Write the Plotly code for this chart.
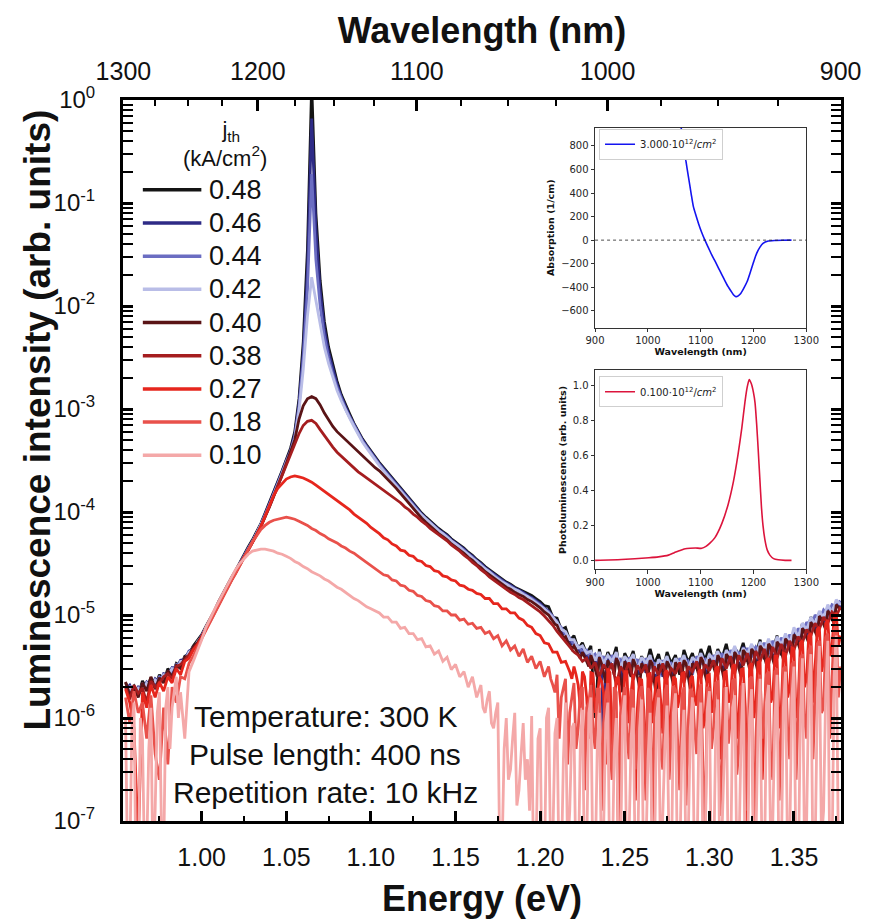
import numpy as np
import plotly.graph_objects as go

# ---------------- main spectra (log10 of intensity on a uniform energy grid) ----------------
E_START, E_STEP, N_PTS = 0.955, 0.0025, 170
energy_eV = np.round(E_START + E_STEP * np.arange(N_PTS), 4)

jth_labels = ["0.48", "0.46", "0.44", "0.42", "0.40", "0.38", "0.27", "0.18", "0.10"]
colors = ["#141414", "#2e2b86", "#6b6dc2", "#b9bde7", "#5a1416",
          "#a51d1f", "#e6261d", "#e9514b", "#f4a8a8"]

log_I_048 = [
    -5.66, -5.74, -5.69, -5.78, -5.64, -5.72, -5.61, -5.70, -5.58, -5.65,
    -5.52, -5.58, -5.47, -5.50, -5.40, -5.38, -5.30, -5.25, -5.19, -5.11,
    -5.04, -4.96, -4.87, -4.79, -4.72, -4.64, -4.57, -4.49, -4.41, -4.34,
    -4.27, -4.19, -4.11, -4.01, -3.91, -3.81, -3.71, -3.60, -3.49, -3.38,
    -3.22, -2.90, -2.35, -1.45, 0.15, -1.10, -1.75, -2.15, -2.40, -2.58,
    -2.73, -2.86, -2.96, -3.05, -3.14, -3.22, -3.29, -3.35, -3.41, -3.47,
    -3.52, -3.57, -3.62, -3.67, -3.72, -3.77, -3.82, -3.87, -3.92, -3.97,
    -4.01, -4.05, -4.09, -4.13, -4.16, -4.19, -4.22, -4.26, -4.29, -4.32,
    -4.35, -4.39, -4.42, -4.46, -4.49, -4.53, -4.56, -4.59, -4.62, -4.65,
    -4.68, -4.70, -4.73, -4.75, -4.77, -4.79, -4.81, -4.84, -4.87, -4.91,
    -4.92, -5.02, -5.03, -5.14, -5.12, -5.25, -5.20, -5.33, -5.27, -5.38,
    -5.30, -6.00, -5.33, -5.52, -5.36, -5.45, -5.31, -5.62, -5.37, -5.46,
    -5.35, -5.55, -5.40, -5.50, -5.33, -5.48, -5.38, -5.55, -5.36, -5.47,
    -5.39, -5.58, -5.34, -5.46, -5.37, -5.52, -5.33, -5.44, -5.30, -5.49,
    -5.33, -5.42, -5.28, -5.47, -5.32, -5.40, -5.27, -5.45, -5.30, -5.38,
    -5.24, -5.43, -5.26, -5.35, -5.20, -5.39, -5.22, -5.30, -5.15, -5.26,
    -5.08, -5.20, -5.02, -5.14, -4.98, -5.08, -4.92, -5.00, -4.88, -4.95,
]
log_I_046 = [
    -5.72, -5.68, -5.76, -5.70, -5.73, -5.65, -5.69, -5.62, -5.66, -5.57,
    -5.58, -5.51, -5.52, -5.44, -5.43, -5.35, -5.33, -5.27, -5.20, -5.12,
    -5.05, -4.97, -4.88, -4.80, -4.73, -4.65, -4.58, -4.50, -4.42, -4.35,
    -4.28, -4.20, -4.12, -4.02, -3.92, -3.82, -3.72, -3.61, -3.50, -3.40,
    -3.25, -2.95, -2.45, -1.65, -0.18, -1.25, -1.85, -2.22, -2.45, -2.62,
    -2.76, -2.88, -2.98, -3.07, -3.15, -3.23, -3.30, -3.36, -3.42, -3.48,
    -3.53, -3.58, -3.63, -3.68, -3.73, -3.78, -3.83, -3.88, -3.93, -3.98,
    -4.02, -4.06, -4.10, -4.14, -4.17, -4.20, -4.23, -4.27, -4.30, -4.33,
    -4.36, -4.40, -4.43, -4.47, -4.50, -4.54, -4.57, -4.60, -4.63, -4.66,
    -4.69, -4.71, -4.74, -4.76, -4.78, -4.81, -4.83, -4.86, -4.89, -4.93,
    -4.96, -5.03, -5.06, -5.15, -5.17, -5.25, -5.26, -5.33, -5.32, -5.40,
    -5.36, -5.45, -5.37, -6.35, -5.40, -5.50, -5.38, -5.47, -5.42, -5.55,
    -5.40, -5.49, -5.44, -5.56, -5.41, -5.50, -5.45, -5.60, -5.42, -5.52,
    -5.43, -5.50, -5.41, -5.52, -5.44, -5.49, -5.38, -5.55, -5.40, -5.46,
    -5.36, -5.47, -5.35, -5.44, -5.33, -5.48, -5.31, -5.40, -5.30, -5.43,
    -5.28, -5.37, -5.25, -5.40, -5.24, -5.33, -5.20, -5.31, -5.16, -5.25,
    -5.10, -5.19, -5.04, -5.13, -4.98, -5.06, -4.94, -5.02, -4.87, -4.93,
]
log_I_044 = [
    -5.69, -5.75, -5.70, -5.74, -5.67, -5.71, -5.64, -5.68, -5.60, -5.63,
    -5.55, -5.56, -5.48, -5.49, -5.41, -5.39, -5.31, -5.28, -5.20, -5.13,
    -5.05, -4.97, -4.88, -4.80, -4.73, -4.65, -4.58, -4.50, -4.43, -4.36,
    -4.28, -4.21, -4.12, -4.03, -3.93, -3.83, -3.73, -3.62, -3.51, -3.41,
    -3.27, -2.98, -2.52, -1.85, -0.72, -1.55, -2.00, -2.30, -2.50, -2.66,
    -2.79, -2.90, -3.00, -3.08, -3.16, -3.24, -3.31, -3.37, -3.43, -3.49,
    -3.54, -3.59, -3.64, -3.69, -3.74, -3.79, -3.84, -3.89, -3.94, -3.99,
    -4.03, -4.07, -4.11, -4.15, -4.18, -4.21, -4.24, -4.28, -4.31, -4.34,
    -4.37, -4.41, -4.44, -4.48, -4.51, -4.55, -4.58, -4.61, -4.64, -4.67,
    -4.70, -4.72, -4.75, -4.77, -4.79, -4.82, -4.84, -4.87, -4.90, -4.94,
    -4.97, -5.01, -5.08, -5.12, -5.19, -5.22, -5.29, -5.30, -5.36, -5.34,
    -5.42, -5.38, -5.46, -5.40, -5.52, -5.39, -5.46, -5.43, -5.58, -5.41,
    -5.50, -5.43, -5.55, -5.42, -5.51, -5.46, -5.62, -5.44, -5.50, -5.47,
    -5.55, -5.42, -5.49, -5.45, -5.58, -5.40, -5.47, -5.43, -5.52, -5.39,
    -5.45, -5.37, -5.50, -5.34, -5.42, -5.36, -5.47, -5.32, -5.41, -5.31,
    -5.36, -5.27, -5.38, -5.25, -5.34, -5.22, -5.30, -5.19, -5.27, -5.13,
    -5.18, -5.07, -5.12, -5.00, -5.05, -4.95, -5.00, -4.90, -4.92, -4.86,
]
log_I_042 = [
    -5.73, -5.70, -5.77, -5.71, -5.75, -5.66, -5.70, -5.63, -5.67, -5.58,
    -5.59, -5.52, -5.54, -5.45, -5.45, -5.36, -5.34, -5.26, -5.21, -5.12,
    -5.06, -4.98, -4.89, -4.81, -4.74, -4.66, -4.59, -4.51, -4.43, -4.36,
    -4.29, -4.21, -4.13, -4.04, -3.94, -3.84, -3.74, -3.63, -3.52, -3.42,
    -3.29, -3.02, -2.62, -2.10, -1.72, -1.95, -2.20, -2.40, -2.56, -2.70,
    -2.82, -2.92, -3.01, -3.09, -3.17, -3.25, -3.32, -3.38, -3.44, -3.50,
    -3.55, -3.60, -3.65, -3.70, -3.75, -3.80, -3.85, -3.90, -3.95, -3.99,
    -4.03, -4.07, -4.11, -4.15, -4.18, -4.21, -4.25, -4.28, -4.31, -4.34,
    -4.38, -4.41, -4.45, -4.48, -4.52, -4.55, -4.58, -4.62, -4.65, -4.68,
    -4.70, -4.73, -4.75, -4.77, -4.80, -4.82, -4.85, -4.88, -4.91, -4.94,
    -4.98, -5.02, -5.07, -5.14, -5.16, -5.24, -5.24, -5.32, -5.30, -5.37,
    -5.35, -5.44, -5.36, -5.47, -5.39, -5.45, -5.36, -5.52, -5.40, -5.46,
    -5.38, -5.53, -5.41, -5.47, -5.39, -5.57, -5.43, -5.48, -5.40, -5.54,
    -5.42, -5.48, -5.39, -5.53, -5.41, -5.46, -5.37, -5.50, -5.38, -5.44,
    -5.35, -5.49, -5.34, -5.41, -5.30, -5.45, -5.32, -5.38, -5.28, -5.42,
    -5.26, -5.35, -5.23, -5.37, -5.21, -5.30, -5.18, -5.28, -5.12, -5.22,
    -5.08, -5.15, -5.02, -5.10, -4.96, -5.03, -4.90, -4.98, -4.85, -4.90,
]
log_I_040 = [
    -5.65, -5.78, -5.70, -5.80, -5.66, -5.74, -5.60, -5.72, -5.61, -5.66,
    -5.54, -5.60, -5.49, -5.52, -5.41, -5.40, -5.31, -5.27, -5.21, -5.13,
    -5.06, -4.98, -4.89, -4.81, -4.74, -4.66, -4.59, -4.51, -4.44, -4.37,
    -4.30, -4.22, -4.14, -4.05, -3.95, -3.85, -3.75, -3.64, -3.53, -3.42,
    -3.30, -3.10, -2.97, -2.90, -2.88, -2.90, -2.96, -3.04, -3.11, -3.17,
    -3.22, -3.26, -3.30, -3.34, -3.38, -3.42, -3.46, -3.50, -3.53, -3.57,
    -3.60, -3.64, -3.68, -3.72, -3.77, -3.82, -3.87, -3.92, -3.97, -4.02,
    -4.06, -4.10, -4.14, -4.18, -4.21, -4.24, -4.27, -4.31, -4.34, -4.37,
    -4.40, -4.44, -4.47, -4.51, -4.54, -4.58, -4.61, -4.64, -4.67, -4.70,
    -4.73, -4.75, -4.78, -4.80, -4.82, -4.85, -4.87, -4.90, -4.93, -4.97,
    -5.00, -5.06, -5.10, -5.18, -5.21, -5.29, -5.30, -5.37, -5.36, -5.45,
    -5.39, -5.52, -5.41, -5.56, -5.44, -5.50, -5.42, -5.62, -5.45, -5.54,
    -5.43, -5.60, -5.47, -5.52, -5.44, -5.65, -5.48, -5.55, -5.45, -5.60,
    -5.46, -5.53, -5.44, -5.62, -5.47, -5.51, -5.41, -5.58, -5.43, -5.50,
    -5.39, -5.55, -5.38, -5.47, -5.36, -5.52, -5.34, -5.44, -5.33, -5.47,
    -5.30, -5.41, -5.28, -5.43, -5.26, -5.36, -5.23, -5.34, -5.19, -5.28,
    -5.13, -5.22, -5.07, -5.16, -5.01, -5.09, -4.96, -5.04, -4.90, -4.95,
]
log_I_038 = [
    -5.70, -5.82, -5.68, -5.76, -5.71, -5.85, -5.64, -5.70, -5.66, -5.60,
    -5.57, -5.62, -5.50, -5.48, -5.44, -5.38, -5.33, -5.28, -5.21, -5.14,
    -5.06, -4.98, -4.89, -4.81, -4.74, -4.66, -4.59, -4.51, -4.44, -4.37,
    -4.30, -4.22, -4.14, -4.05, -3.95, -3.85, -3.75, -3.64, -3.54, -3.44,
    -3.34, -3.24, -3.16, -3.12, -3.11, -3.14, -3.20, -3.26, -3.32, -3.37,
    -3.42, -3.46, -3.50, -3.54, -3.57, -3.61, -3.64, -3.67, -3.70, -3.73,
    -3.76, -3.79, -3.82, -3.85, -3.88, -3.91, -3.95, -3.98, -4.02, -4.05,
    -4.09, -4.12, -4.16, -4.19, -4.22, -4.25, -4.28, -4.32, -4.35, -4.38,
    -4.42, -4.45, -4.49, -4.52, -4.56, -4.59, -4.63, -4.66, -4.69, -4.72,
    -4.75, -4.78, -4.80, -4.83, -4.85, -4.88, -4.91, -4.94, -4.97, -5.01,
    -5.05, -5.10, -5.16, -5.21, -5.26, -5.31, -5.36, -5.39, -5.45, -5.42,
    -5.52, -5.46, -5.60, -5.48, -5.55, -5.47, -5.68, -5.50, -5.57, -5.46,
    -5.63, -5.49, -5.56, -5.48, -5.72, -5.50, -5.58, -5.47, -5.61, -5.52,
    -5.57, -5.46, -5.66, -5.50, -5.55, -5.45, -5.61, -5.48, -5.54, -5.44,
    -5.58, -5.42, -5.52, -5.40, -5.57, -5.39, -5.49, -5.37, -5.53, -5.35,
    -5.45, -5.33, -5.48, -5.31, -5.42, -5.28, -5.40, -5.25, -5.34, -5.21,
    -5.27, -5.14, -5.20, -5.08, -5.14, -5.02, -5.08, -4.97, -5.01, -4.92,
]
log_I_027 = [
    -5.72, -5.85, -6.10, -7.20, -5.75, -5.90, -5.68, -5.80, -5.65, -5.74,
    -5.60, -5.66, -5.52, -5.58, -5.45, -5.42, -5.34, -5.29, -5.22, -5.14,
    -5.06, -4.98, -4.89, -4.81, -4.74, -4.66, -4.59, -4.51, -4.44, -4.37,
    -4.30, -4.22, -4.14, -4.04, -3.94, -3.84, -3.77, -3.72, -3.68, -3.66,
    -3.65, -3.66, -3.67, -3.69, -3.71, -3.74, -3.77, -3.80, -3.83, -3.86,
    -3.89, -3.92, -3.95, -3.98, -4.02, -4.05, -4.08, -4.11, -4.15, -4.18,
    -4.21, -4.25, -4.27, -4.31, -4.33, -4.37, -4.38, -4.42, -4.43, -4.47,
    -4.48, -4.52, -4.53, -4.57, -4.58, -4.62, -4.63, -4.66, -4.67, -4.71,
    -4.72, -4.75, -4.76, -4.79, -4.80, -4.84, -4.84, -4.89, -4.89, -4.94,
    -4.94, -4.98, -4.98, -5.03, -5.05, -5.10, -5.12, -5.18, -5.20, -5.27,
    -5.28, -5.36, -5.36, -5.46, -5.45, -5.55, -5.50, -5.68, -5.55, -5.80,
    -5.56, -5.95, -5.60, -5.75, -5.52, -6.30, -5.62, -5.85, -5.55, -6.05,
    -5.58, -5.90, -5.63, -6.60, -5.57, -5.82, -5.60, -6.15, -5.54, -5.95,
    -5.62, -5.78, -5.56, -6.40, -5.59, -5.88, -5.53, -6.00, -5.58, -5.84,
    -5.50, -6.25, -5.55, -5.80, -5.48, -5.95, -5.52, -7.10, -5.47, -5.85,
    -5.45, -6.05, -5.42, -5.78, -5.40, -5.92, -5.38, -5.70, -5.33, -5.85,
    -5.25, -5.60, -5.18, -5.50, -5.12, -5.45, -5.05, -5.30, -4.98, -5.20,
]
log_I_018 = [
    -5.80, -6.05, -5.74, -5.95, -5.85, -6.20, -5.78, -6.35, -6.60, -5.90,
    -6.45, -5.70, -5.85, -5.60, -5.62, -5.47, -5.40, -5.31, -5.23, -5.15,
    -5.07, -4.99, -4.90, -4.82, -4.75, -4.67, -4.60, -4.52, -4.44, -4.36,
    -4.29, -4.23, -4.17, -4.13, -4.10, -4.08, -4.07, -4.06, -4.05, -4.06,
    -4.07, -4.09, -4.11, -4.13, -4.16, -4.18, -4.21, -4.23, -4.26, -4.28,
    -4.30, -4.33, -4.35, -4.38, -4.40, -4.43, -4.46, -4.49, -4.52, -4.55,
    -4.58, -4.61, -4.62, -4.66, -4.67, -4.71, -4.72, -4.76, -4.77, -4.81,
    -4.82, -4.86, -4.87, -4.91, -4.92, -4.96, -4.96, -5.00, -5.00, -5.05,
    -5.04, -5.09, -5.08, -5.13, -5.12, -5.18, -5.16, -5.23, -5.20, -5.30,
    -5.25, -5.34, -5.30, -5.40, -5.33, -5.46, -5.40, -5.52, -5.45, -5.60,
    -5.50, -5.68, -5.58, -5.80, -5.62, -5.95, -5.66, -6.10, -5.70, -5.90,
    -5.68, -6.30, -5.72, -6.05, -5.66, -6.60, -5.75, -5.95, -5.70, -6.40,
    -5.74, -6.10, -5.69, -6.80, -5.76, -6.00, -5.72, -6.50, -5.68, -6.15,
    -5.73, -6.70, -5.70, -6.05, -5.75, -6.35, -5.67, -7.20, -5.72, -6.10,
    -5.65, -6.45, -5.70, -6.00, -5.62, -6.30, -5.66, -6.90, -5.60, -6.20,
    -5.58, -6.00, -5.55, -6.60, -5.52, -6.10, -5.50, -6.40, -5.45, -5.95,
    -5.38, -6.20, -5.30, -5.80, -5.25, -5.90, -5.18, -5.60, -5.10, -5.50,
]
log_I_010 = [
    -6.00, -7.40, -5.85, -7.60, -6.20, -7.30, -5.90, -6.90, -5.75, -7.40,
    -5.70, -5.90, -5.60, -5.75, -6.20, -5.55, -5.45, -5.35, -5.24, -5.12,
    -5.03, -4.95, -4.87, -4.79, -4.71, -4.63, -4.56, -4.50, -4.45, -4.41,
    -4.38, -4.37, -4.36, -4.36, -4.37, -4.38, -4.40, -4.41, -4.43, -4.45,
    -4.48, -4.50, -4.53, -4.55, -4.58, -4.60, -4.62, -4.65, -4.67, -4.70,
    -4.73, -4.75, -4.78, -4.81, -4.84, -4.86, -4.89, -4.92, -4.94, -4.96,
    -4.98, -5.02, -5.02, -5.07, -5.07, -5.13, -5.12, -5.18, -5.18, -5.24,
    -5.23, -5.31, -5.30, -5.38, -5.35, -5.45, -5.41, -5.53, -5.48, -5.60,
    -5.55, -5.70, -5.60, -5.80, -5.68, -5.95, -5.74, -6.10, -5.85, -7.30,
    -6.00, -6.50, -5.95, -6.70, -6.05, -6.40, -5.98, -7.40, -6.10, -7.60,
    -5.90, -7.20, -6.00, -7.50, -5.85, -6.90, -6.05, -7.60, -5.92, -7.30,
    -5.80, -7.50, -5.95, -7.10, -5.85, -7.60, -6.00, -7.40, -5.78, -7.20,
    -5.90, -7.60, -5.82, -7.30, -5.95, -7.50, -5.80, -7.00, -5.88, -7.60,
    -5.76, -7.40, -5.92, -7.20, -5.80, -7.60, -5.85, -7.30, -5.74, -7.50,
    -5.82, -7.10, -5.70, -7.60, -5.78, -7.30, -5.66, -7.50, -5.72, -7.20,
    -5.62, -7.60, -5.68, -7.00, -5.58, -7.40, -5.55, -7.20, -5.50, -7.60,
    -5.42, -7.00, -5.38, -7.30, -5.30, -6.90, -5.25, -7.40, -5.20, -7.10,
]

# extra readings of the noisy tails, taken half-way between grid points
# (start index on the grid, values)
mid_046 = (100, [
    -5.00, -5.08, -5.12, -5.18, -5.22, -5.28, -5.31, -5.36, -5.38, -5.43,
    -5.41, -5.50, -5.44, -5.58, -5.46, -5.52, -5.43, -5.65, -5.47, -5.50,
    -5.45, -5.58, -5.47, -5.52, -5.44, -5.70, -5.48, -5.53, -5.45, -5.62,
    -5.46, -5.55, -5.43, -5.60, -5.45, -5.52, -5.41, -5.58, -5.42, -5.50,
    -5.39, -5.56, -5.37, -5.49, -5.35, -5.55, -5.34, -5.46, -5.32, -5.50,
    -5.30, -5.44, -5.28, -5.47, -5.26, -5.39, -5.23, -5.36, -5.20, -5.30,
    -5.14, -5.24, -5.08, -5.18, -5.02, -5.10, -4.97, -5.04, -4.90])
mid_040 = (100, [
    -5.03, -5.09, -5.15, -5.22, -5.26, -5.33, -5.34, -5.42, -5.40, -5.50,
    -5.45, -5.60, -5.47, -5.66, -5.49, -5.58, -5.46, -5.75, -5.50, -5.60,
    -5.48, -5.70, -5.51, -5.60, -5.47, -5.80, -5.52, -5.62, -5.49, -5.68,
    -5.50, -5.60, -5.47, -5.72, -5.50, -5.58, -5.45, -5.66, -5.46, -5.57,
    -5.43, -5.63, -5.41, -5.54, -5.40, -5.60, -5.37, -5.52, -5.36, -5.55,
    -5.33, -5.48, -5.31, -5.50, -5.29, -5.43, -5.26, -5.40, -5.22, -5.34,
    -5.16, -5.27, -5.10, -5.21, -5.04, -5.14, -4.99, -5.08, -4.93])
mid_027 = (104, [
    -5.50, -5.62, -5.58, -5.90, -5.60, -6.20, -5.57, -5.80, -5.64, -6.45,
    -5.56, -5.85, -5.60, -6.10, -5.55, -5.75, -6.80, -5.62, -5.92, -5.58,
    -6.05, -5.61, -5.83, -5.56, -6.30, -5.60, -5.90, -5.57, -6.55, -5.62,
    -5.80, -5.55, -6.10, -5.59, -5.95, -5.52, -6.40, -5.56, -5.85, -5.50,
    -6.20, -5.53, -5.90, -5.49, -6.00, -5.46, -6.60, -5.44, -5.85, -5.40,
    -6.10, -5.37, -5.80, -5.32, -6.00, -5.27, -5.70, -5.20, -5.85, -5.14,
    -5.55, -5.08, -5.40, -5.02, -5.30])
mid_018 = (100, [
    -5.62, -5.75, -6.20, -5.70, -6.45, -5.80, -6.30, -5.74, -6.70, -5.85,
    -6.10, -5.72, -6.90, -5.78, -6.25, -5.70, -7.30, -5.82, -6.15, -5.73,
    -6.50, -5.76, -6.05, -5.71, -7.10, -5.80, -6.35, -5.74, -6.60, -5.69,
    -6.20, -5.78, -6.85, -5.72, -6.10, -5.75, -6.50, -5.70, -6.30, -5.66,
    -6.95, -5.72, -6.25, -5.64, -6.55, -5.70, -6.15, -5.62, -7.40, -5.66,
    -6.20, -5.58, -6.40, -5.55, -6.80, -5.52, -6.10, -5.48, -6.60, -5.42,
    -6.00, -5.35, -6.40, -5.28, -5.95, -5.22, -6.20, -5.14, -5.80])
mid_010_left = (0, [
    -7.50, -6.10, -7.70, -6.00, -7.45, -6.30, -7.60, -5.95, -7.10, -5.90,
    -6.30, -5.75, -6.00])
mid_010_right = (84, [
    -5.90, -5.82, -6.05, -5.95, -7.50, -6.30, -6.60, -6.20, -6.85, -6.35,
    -6.60, -6.90, -7.60, -6.20, -7.70, -6.00, -7.40, -6.15, -7.60, -6.40,
    -7.30, -6.10, -7.70, -6.25, -7.50, -5.95, -7.60, -6.30, -7.40, -6.05,
    -7.70, -6.35, -7.20, -5.98, -7.60, -6.20, -7.50, -6.10, -7.70, -6.40,
    -7.30, -6.00, -7.60, -6.25, -7.40, -5.95, -7.70, -6.30, -7.50, -6.10,
    -7.60, -6.20, -7.30, -5.92, -7.70, -6.15, -7.50, -6.30, -7.60, -5.90,
    -7.40, -6.20, -7.70, -6.00, -7.50, -6.10, -7.60, -5.85, -7.30, -6.00,
    -7.70, -5.90, -7.40, -5.80, -7.60, -6.05, -7.30, -5.70, -7.50, -5.90,
    -7.20, -5.75, -7.60, -5.60, -7.30])

series_log = [log_I_048, log_I_046, log_I_044, log_I_042, log_I_040,
              log_I_038, log_I_027, log_I_018, log_I_010]
series_mid = [[], [mid_046], [], [], [mid_040], [], [mid_027], [mid_018],
              [mid_010_left, mid_010_right]]
for s in series_log:
    assert len(s) == N_PTS, len(s)


def combine(main_vals, mids):
    e = list(energy_eV)
    v = list(main_vals)
    for start, vals in mids:
        e += list(np.round(E_START + E_STEP * (np.arange(start, start + len(vals)) + 0.5), 5))
        v += list(vals)
    order = np.argsort(e, kind="stable")
    return np.array(e)[order], np.power(10.0, np.array(v)[order])


# ---------------- insets ----------------
abs_wavelength_nm = [1063, 1068, 1072, 1077, 1082, 1086, 1091, 1096, 1102, 1108,
                     1115, 1121, 1128, 1134, 1140, 1146, 1152, 1157, 1162, 1166,
                     1170, 1175, 1181, 1188, 1194, 1200, 1206, 1212, 1218, 1228,
                     1240, 1255, 1272]
abs_per_cm = [955, 814, 674, 533, 393, 289, 211, 140, 65, 0,
              -68, -126, -185, -239, -292, -345, -395, -430, -463, -478,
              -477, -458, -413, -351, -272, -188, -112, -62, -28, -8,
              -3, -1, 0]
abs_label = "3.000·10<sup>12</sup>/<i>cm</i><sup>2</sup>"

pl_wavelength_nm = [900, 950, 1002, 1020, 1039, 1050, 1058, 1065, 1071, 1080,
                    1090, 1102, 1110, 1118, 1127, 1140, 1152, 1162, 1171, 1178,
                    1184, 1188, 1192, 1196, 1200, 1203, 1206, 1209, 1212, 1215,
                    1218, 1221.5, 1226, 1231, 1238, 1247, 1260, 1272]
pl_arb = [0.0, 0.005, 0.015, 0.02, 0.03, 0.044, 0.054, 0.061, 0.066, 0.069,
          0.071, 0.069, 0.08, 0.10, 0.13, 0.21, 0.32, 0.45, 0.61, 0.76,
          0.91, 0.99, 1.035, 1.01, 0.96, 0.90, 0.78, 0.63, 0.47, 0.31,
          0.20, 0.12, 0.06, 0.03, 0.01, 0.003, 0.0, 0.0]
pl_label = "0.100·10<sup>12</sup>/<i>cm</i><sup>2</sup>"

# ---------------- axis tick definitions ----------------
HC = 1239.84  # eV*nm
wl_major = [1300, 1200, 1100, 1000, 900]
wl_minor = [1275, 1250, 1225, 1175, 1150, 1125, 1075, 1050, 1025, 975, 950, 925]
y_decades = [-7, -6, -5, -4, -3, -2, -1, 0]

# ---------------- geometry helpers (pixel -> paper) ----------------
FIG_W, FIG_H = 874, 924
PL_L, PL_T, PL_W, PL_H = 123, 100, 724, 728
def fx(px):
    return (px - PL_L) / PL_W
def fy(py):
    return (PL_T + PL_H - py) / PL_H

AR = "Arial, Liberation Sans, sans-serif"
DV = "DejaVu Sans, sans-serif"

fig = go.Figure()
for k, (lab, col, lg, mids) in enumerate(zip(jth_labels, colors, series_log, series_mid)):
    ex, yv = combine(lg, mids)
    # the last series is placed on the (overlaid) wavelength axis so that axis is drawn;
    # both x axes share exactly the same energy range.
    xa = "x2" if k == len(jth_labels) - 1 else "x"
    fig.add_trace(go.Scatter(
        x=ex, y=yv, mode="lines", name=lab,
        line=dict(color=col, width=2.8), showlegend=False,
        xaxis=xa, yaxis="y", hoverinfo="skip"))

fig.add_trace(go.Scatter(
    x=abs_wavelength_nm, y=abs_per_cm, mode="lines", name=abs_label,
    line=dict(color="#1414f0", width=1.6, shape="spline", smoothing=0.6),
    xaxis="x3", yaxis="y3", legend="legend2", showlegend=True))
fig.add_trace(go.Scatter(
    x=pl_wavelength_nm, y=pl_arb, mode="lines", name=pl_label,
    line=dict(color="#dc143c", width=1.6, shape="spline", smoothing=0.6),
    xaxis="x4", yaxis="y4", legend="legend3", showlegend=True))

xr = [0.9535, 1.3778]
tickfont_main = dict(family=AR, size=25, color="#111111")
title_font = dict(family=AR, size=36, color="#111111", weight="bold")

inset_tickfont = dict(family=DV, size=10, color="#262626")
inset_titlefont = dict(family=DV, size=9.5, color="#111111", weight="bold")

def inset_x(domain, anchor):
    return dict(domain=domain, anchor=anchor, range=[900, 1300],
                tickmode="array", tickvals=[900, 1000, 1100, 1200, 1300],
                ticks="outside", ticklen=3.5, tickwidth=0.8, tickcolor="#333",
                showline=True, linecolor="#333", linewidth=0.9, mirror=True,
                showgrid=False, zeroline=False, tickfont=inset_tickfont,
                title=dict(text="Wavelength (nm)", font=inset_titlefont, standoff=3))

def inset_y(domain, anchor, rng, vals, title, fmt=None):
    d = dict(domain=domain, anchor=anchor, range=rng,
             tickmode="array", tickvals=vals,
             ticks="outside", ticklen=3.5, tickwidth=0.8, tickcolor="#333",
             showline=True, linecolor="#333", linewidth=0.9, mirror=True,
             showgrid=False, zeroline=False, tickfont=inset_tickfont,
             title=dict(text=title, font=inset_titlefont, standoff=4))
    if fmt:
        d["tickformat"] = fmt
    return d

fig.update_layout(
    width=FIG_W, height=FIG_H,
    margin=dict(l=PL_L, r=FIG_W - PL_L - PL_W, t=PL_T, b=FIG_H - PL_T - PL_H),
    paper_bgcolor="white", plot_bgcolor="white",
    showlegend=True,
    xaxis=dict(domain=[0, 1], anchor="y", range=xr,
               showline=True, linewidth=3, linecolor="black", mirror=True,
               ticks="inside", ticklen=10, tickwidth=2.5, tickcolor="black",
               tickmode="linear", tick0=1.0, dtick=0.05, tickformat=".2f",
               minor=dict(ticks="inside", ticklen=5, tickwidth=2, tickcolor="black",
                          tick0=1.0, dtick=0.025, showgrid=False),
               showgrid=False, zeroline=False, tickfont=tickfont_main,
               ticklabelstandoff=12,
               title=dict(text="Energy (eV)", font=title_font, standoff=16)),
    xaxis2=dict(overlaying="x", side="top", anchor="y", range=xr,
                tickmode="array", tickvals=[HC / w for w in wl_major],
                ticktext=[str(w) for w in wl_major],
                ticks="inside", ticklen=11, tickwidth=2.5, tickcolor="black",
                minor=dict(tickmode="array", tickvals=[HC / w for w in wl_minor],
                           ticks="inside", ticklen=6, tickwidth=2, tickcolor="black",
                           showgrid=False),
                showline=False, showgrid=False, zeroline=False,
                tickfont=tickfont_main, ticklabelstandoff=14,
                title=dict(text="Wavelength (nm)", font=title_font, standoff=2)),
    yaxis=dict(domain=[0, 1], anchor="x", type="log", range=[-7, 0],
               showline=True, linewidth=3, linecolor="black", mirror="allticks",
               ticks="inside", ticklen=10, tickwidth=2.5, tickcolor="black",
               tickmode="array", tickvals=[10.0 ** e for e in y_decades],
               ticktext=["10<sup>%d</sup>" % e for e in y_decades],
               minor=dict(tickmode="array",
                          tickvals=[m * 10.0 ** e for e in y_decades[:-1] for m in range(2, 10)],
                          ticks="inside", ticklen=5, tickwidth=1.5, tickcolor="black",
                          showgrid=False),
               showgrid=False, zeroline=False,
               tickfont=dict(family=AR, size=24, color="#111111"),
               ticklabelstandoff=20),
    xaxis3=inset_x([fx(599), fx(812)], "y3"),
    yaxis3=inset_y([fy(330), fy(128)], "x3", [-744, 954],
                   [-600, -400, -200, 0, 200, 400, 600, 800], "Absorption (1/cm)"),
    xaxis4=inset_x([fx(599), fx(812)], "y4"),
    yaxis4=inset_y([fy(574), fy(373)], "x4", [-0.052, 1.087],
                   [0.0, 0.2, 0.4, 0.6, 0.8, 1.0], "Photoluminescence (arb. units)", ".1f"),
    legend2=dict(x=fx(603), y=fy(129), xanchor="left", yanchor="top",
                 bgcolor="white", bordercolor="#cfcfcf", borderwidth=1,
                 font=dict(family=DV, size=10, color="#222"), itemwidth=30),
    legend3=dict(x=fx(603), y=fy(379), xanchor="left", yanchor="top",
                 bgcolor="white", bordercolor="#cfcfcf", borderwidth=1,
                 font=dict(family=DV, size=10, color="#222"), itemwidth=30),
)

# dotted zero line of the absorption inset
fig.add_shape(type="line", xref="x3 domain", yref="y3", x0=0, x1=1, y0=0, y1=0,
              line=dict(color="#222", width=0.8, dash="dot"))

annotations = []
# y-axis title
annotations.append(dict(text="Luminescence intensity (arb. units)", x=fx(37), y=fy(423),
                        xref="paper", yref="paper", showarrow=False, textangle=-90,
                        xanchor="center", yanchor="middle",
                        font=dict(family=AR, size=37, color="#111111", weight="bold")))
# conditions text
for txt, py in [("Temperature: 300 K", 722), ("Pulse length: 400 ns", 761),
                ("Repetition rate: 10 kHz", 799)]:
    annotations.append(dict(text=txt, x=fx(327), y=fy(py), xref="paper", yref="paper",
                            showarrow=False, xanchor="center", yanchor="middle",
                            font=dict(family=AR, size=30, color="#111")))
# legend (drawn as lines + text to keep the original compact spacing)
annotations.append(dict(text="&nbsp;&nbsp;j<sub>th</sub><br>(kA/cm<sup>2</sup>)",
                        x=fx(226), y=fy(144), xref="paper", yref="paper",
                        showarrow=False, xanchor="center", yanchor="middle", align="center",
                        font=dict(family=AR, size=22, color="#111")))
for k, (lab, col) in enumerate(zip(jth_labels, colors)):
    py = 190.7 + 33.5 * k
    fig.add_shape(type="line", xref="paper", yref="paper", x0=fx(143), x1=fx(202),
                  y0=fy(py), y1=fy(py), line=dict(color=col, width=3.5))
    annotations.append(dict(text=lab, x=fx(208), y=fy(py), xref="paper", yref="paper",
                            showarrow=False, xanchor="left", yanchor="middle",
                            font=dict(family=AR, size=27, color="#111")))
fig.update_layout(annotations=annotations)

fig.write_html("out.html")
